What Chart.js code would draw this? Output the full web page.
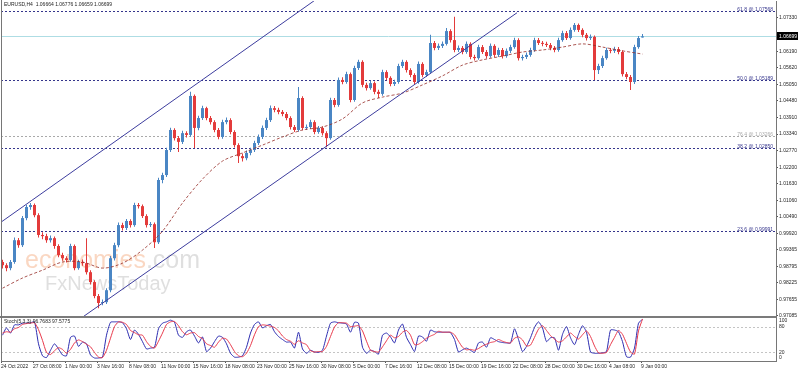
<!DOCTYPE html>
<html>
<head>
<meta charset="utf-8">
<title>EURUSD H4</title>
<script src="https://cdn.jsdelivr.net/npm/chart.js@4.4.1/dist/chart.umd.min.js"></script>
<style>
  body { margin: 0; background: #fff; }
  #wrap { position: relative; width: 798px; height: 372px; overflow: hidden; background: #fff; }
  #main-chart { position: absolute; left: 0; top: 0; }
  #stoch-chart { position: absolute; left: 0; top: 316px; }
</style>
</head>
<body>
<div id="wrap">
  <canvas id="main-chart" width="798" height="320"></canvas>
  <canvas id="stoch-chart" width="798" height="56"></canvas>
</div>
<script>
// --- data (one candle = two H4 bars) ---
var opens = [0.9894,0.9883,0.9873,0.9894,0.9969,0.9952,1.0045,1.0083,1.0090,1.0055,
  0.9987,0.9983,0.9969,0.9976,0.9949,0.9918,0.9907,0.9901,0.9949,0.9873,
  0.9894,0.9890,0.9859,0.9825,0.9777,0.9753,0.9756,0.9797,0.9907,0.9952,
  1.0021,1.0011,1.0035,1.0021,1.0090,1.0086,1.0052,1.0021,1.0024,0.9962,
  1.0176,1.0193,1.0279,1.0348,1.0320,1.0307,1.0337,1.0331,1.0465,1.0355,
  1.0389,1.0423,1.0389,1.0375,1.0348,1.0324,1.0375,1.0382,1.0341,1.0296,
  1.0258,1.0251,1.0269,1.0279,1.0303,1.0324,1.0355,1.0382,1.0423,1.0417,
  1.0410,1.0403,1.0389,1.0358,1.0348,1.0458,1.0355,1.0358,1.0375,1.0341,
  1.0355,1.0337,1.0320,1.0451,1.0434,1.0520,1.0513,1.0540,1.0451,1.0561,
  1.0582,1.0503,1.0492,1.0509,1.0479,1.0472,1.0547,1.0527,1.0506,1.0513,
  1.0568,1.0582,1.0554,1.0537,1.0513,1.0575,1.0537,1.0547,1.0647,1.0630,
  1.0637,1.0644,1.0688,1.0657,1.0623,1.0630,1.0616,1.0644,1.0599,1.0595,
  1.0633,1.0616,1.0602,1.0637,1.0606,1.0623,1.0602,1.0620,1.0633,1.0657,
  1.0595,1.0599,1.0606,1.0623,1.0657,1.0647,1.0644,1.0640,1.0630,1.0623,
  1.0657,1.0681,1.0664,1.0692,1.0709,1.0692,1.0675,1.0664,1.0668,1.0554,
  1.0568,1.0595,1.0623,1.0620,1.0626,1.0616,1.0540,1.0530,1.0513,1.0633,
  1.0666];

var highs = [0.9902,0.9890,0.9901,0.9978,0.9977,1.0052,1.0090,1.0097,1.0095,1.0062,
  0.9996,0.9991,0.9985,0.9982,0.9955,0.9926,0.9914,0.9957,0.9954,0.9902,
  0.9903,0.9976,0.9866,0.9831,0.9784,0.9765,0.9804,0.9915,0.9960,1.0030,
  1.0029,1.0042,1.0041,1.0098,1.0097,1.0092,1.0058,1.0032,1.0030,1.0184,
  1.0201,1.0287,1.0356,1.0354,1.0327,1.0345,1.0344,1.0479,1.0470,1.0397,
  1.0431,1.0428,1.0396,1.0381,1.0355,1.0383,1.0391,1.0388,1.0347,1.0302,
  1.0267,1.0277,1.0287,1.0311,1.0332,1.0363,1.0390,1.0432,1.0430,1.0424,
  1.0417,1.0410,1.0395,1.0365,1.0496,1.0464,1.0367,1.0383,1.0381,1.0362,
  1.0361,1.0344,1.0459,1.0458,1.0528,1.0529,1.0548,1.0546,1.0569,1.0589,
  1.0588,1.0510,1.0517,1.0515,1.0486,1.0555,1.0553,1.0533,1.0521,1.0576,
  1.0589,1.0588,1.0560,1.0543,1.0583,1.0581,1.0555,1.0675,1.0654,1.0645,
  1.0652,1.0699,1.0694,1.0737,1.0638,1.0637,1.0652,1.0650,1.0607,1.0641,
  1.0640,1.0623,1.0645,1.0643,1.0631,1.0630,1.0628,1.0641,1.0665,1.0663,
  1.0607,1.0614,1.0631,1.0665,1.0664,1.0654,1.0651,1.0647,1.0637,1.0665,
  1.0689,1.0688,1.0700,1.0716,1.0714,1.0698,1.0681,1.0676,1.0673,1.0576,
  1.0603,1.0631,1.0630,1.0634,1.0633,1.0622,1.0547,1.0537,1.0641,1.0671,
  1.0678];

var lows = [0.9872,0.9862,0.9866,0.9888,0.9943,0.9946,1.0038,1.0074,1.0048,0.9978,
  0.9972,0.9960,0.9961,0.9940,0.9910,0.9898,0.9892,0.9895,0.9866,0.9867,
  0.9881,0.9851,0.9817,0.9769,0.9735,0.9745,0.9750,0.9790,0.9899,0.9945,
  1.0002,1.0004,1.0013,1.0015,1.0078,1.0045,1.0013,1.0014,0.9942,0.9956,
  1.0165,1.0186,1.0272,1.0312,1.0272,1.0300,1.0322,1.0325,1.0286,1.0347,
  1.0382,1.0381,1.0367,1.0340,1.0316,1.0318,1.0368,1.0333,1.0288,1.0234,
  1.0240,1.0244,1.0261,1.0272,1.0296,1.0317,1.0348,1.0375,1.0409,1.0402,
  1.0395,1.0381,1.0350,1.0341,1.0342,1.0347,1.0348,1.0351,1.0333,1.0335,
  1.0329,1.0289,1.0314,1.0426,1.0428,1.0505,1.0507,1.0443,1.0445,1.0554,
  1.0495,1.0484,1.0486,1.0471,1.0458,1.0466,1.0519,1.0498,1.0499,1.0507,
  1.0561,1.0546,1.0529,1.0505,1.0507,1.0529,1.0530,1.0541,1.0622,1.0623,
  1.0630,1.0638,1.0649,1.0615,1.0616,1.0608,1.0610,1.0591,1.0587,1.0589,
  1.0609,1.0594,1.0596,1.0598,1.0599,1.0594,1.0596,1.0613,1.0627,1.0587,
  1.0587,1.0592,1.0600,1.0617,1.0640,1.0636,1.0633,1.0622,1.0615,1.0617,
  1.0651,1.0657,1.0658,1.0686,1.0685,1.0667,1.0656,1.0657,1.0520,1.0540,
  1.0561,1.0589,1.0612,1.0613,1.0608,1.0532,1.0522,1.0485,1.0506,1.0627,
  1.0666];

var closes = [0.9883,0.9873,0.9894,0.9969,0.9952,1.0045,1.0083,1.0090,1.0055,0.9987,
  0.9983,0.9969,0.9976,0.9949,0.9918,0.9907,0.9901,0.9949,0.9873,0.9894,
  0.9890,0.9859,0.9825,0.9777,0.9753,0.9756,0.9797,0.9907,0.9952,1.0021,
  1.0011,1.0035,1.0021,1.0090,1.0086,1.0052,1.0021,1.0024,0.9962,1.0176,
  1.0193,1.0279,1.0348,1.0320,1.0307,1.0337,1.0331,1.0465,1.0355,1.0389,
  1.0423,1.0389,1.0375,1.0348,1.0324,1.0375,1.0382,1.0341,1.0296,1.0258,
  1.0251,1.0269,1.0279,1.0303,1.0324,1.0355,1.0382,1.0423,1.0417,1.0410,
  1.0403,1.0389,1.0358,1.0348,1.0458,1.0355,1.0358,1.0375,1.0341,1.0355,
  1.0337,1.0320,1.0451,1.0434,1.0520,1.0513,1.0540,1.0451,1.0561,1.0582,
  1.0503,1.0492,1.0509,1.0479,1.0472,1.0547,1.0527,1.0506,1.0513,1.0568,
  1.0582,1.0554,1.0537,1.0513,1.0575,1.0537,1.0547,1.0647,1.0630,1.0637,
  1.0644,1.0688,1.0657,1.0623,1.0630,1.0616,1.0644,1.0599,1.0595,1.0633,
  1.0616,1.0602,1.0637,1.0606,1.0623,1.0602,1.0620,1.0633,1.0657,1.0595,
  1.0599,1.0606,1.0623,1.0657,1.0647,1.0644,1.0640,1.0630,1.0623,1.0657,
  1.0681,1.0664,1.0692,1.0709,1.0692,1.0675,1.0664,1.0668,1.0554,1.0568,
  1.0595,1.0623,1.0620,1.0626,1.0616,1.0540,1.0530,1.0513,1.0633,1.0664,
  1.0670];

// moving average, one value every 5th candle
var MA_STEP = 5;
var maValues = [0.9804,0.9839,0.9866,0.9894,0.9894,0.9873,0.9890,0.9935,1.0000,1.0097,
  1.0179,1.0241,1.0269,1.0296,1.0324,1.0348,1.0358,1.0386,1.0441,1.0461,
  1.0475,1.0503,1.0534,1.0571,1.0589,1.0602,1.0616,1.0623,1.0633,1.0644,
  1.0633,1.0620,1.0609];

// channel trend lines: [candle index, price] anchors
var channelUpper = [{x: -0.375, y: 1.0031}, {x: 78.5, y: 1.0798}];
var channelLower = [{x: 20.375, y: 0.9708}, {x: 128.625, y: 1.0751}];

var fibValues = [1.07568, 1.05189, 1.03266, 1.02850, 0.99991];
var fibLabels = ['61.8 @ 1.07568', '50.0 @ 1.05189', '76.4 @ 1.03266', '38.2 @ 1.02850', '23.6 @ 0.99991'];

var lastPrice = 1.06699;
var priceTicks = [0.97085, 0.97655, 0.98225, 0.98795, 0.99365, 0.99920, 1.00490, 1.01060,
  1.01630, 1.02200, 1.02770, 1.03340, 1.03910, 1.04480, 1.05050, 1.05620, 1.06190, 1.07330];

var stochK = [60,77,65,84,84,88,88,89,91,40,
  12,8,25,40,28,14,12,55,58,34,
  44,40,14,7,7,9,60,90,91,91,
  89,75,50,72,62,45,28,30,32,75,
  88,91,95,90,60,55,68,72,58,42,
  56,22,30,45,58,55,40,18,9,9,
  12,32,65,85,91,77,82,85,68,57,
  50,44,44,30,67,28,18,25,21,20,
  25,58,88,91,89,88,86,67,90,88,
  32,18,25,22,16,60,65,56,42,72,
  86,55,38,22,58,56,46,72,68,67,
  67,67,66,50,21,26,30,25,20,42,
  44,32,54,50,45,43,42,42,75,50,
  22,34,54,78,91,77,45,54,54,25,
  62,80,54,38,62,82,67,21,18,18,
  19,22,72,72,68,45,10,9,30,88,
  96.77];

var stochD = [65,68,67,75,78,85,87,88,89,73,
  48,20,15,24,31,27,18,27,42,49,
  45,39,33,20,9,8,25,53,80,91,
  90,85,71,66,61,60,45,34,30,46,
  65,85,91,92,82,68,61,65,66,57,
  52,40,36,32,44,53,51,38,22,12,
  10,18,36,61,80,84,83,81,78,70,
  58,50,46,39,47,42,38,24,21,22,
  22,34,57,79,89,89,88,80,81,82,
  70,46,25,22,21,33,47,60,54,57,
  67,71,60,38,39,45,53,58,62,69,
  67,67,67,61,46,32,26,27,25,29,
  35,39,43,45,50,46,43,42,53,56,
  49,35,37,55,74,82,71,59,51,44,
  47,56,65,57,51,61,70,57,35,19,
  18,20,38,55,71,62,41,21,16,70,
  97.58];

var stochLevels = [80, 20];
var stochLabels = [100, 80, 20, 0];

var dateLabels = ['24 Oct 2022', '27 Oct 08:00', '1 Nov 00:00', '3 Nov 16:00', '8 Nov 08:00',
  '11 Nov 00:00', '15 Nov 16:00', '18 Nov 08:00', '23 Nov 00:00', '25 Nov 16:00',
  '30 Nov 08:00', '5 Dec 00:00', '7 Dec 16:00', '12 Dec 08:00', '15 Dec 00:00',
  '19 Dec 16:00', '22 Dec 08:00', '28 Dec 00:00', '30 Dec 16:00', '4 Jan 08:00', '9 Jan 00:00'];

var titleText = 'EURUSD,H4  1.06664 1.06776 1.06659 1.06699';
var stochTitle = 'Stoch(5,3,3) 96.7683 97.5775';

// --- styles ---
var FONT = 'Liberation Sans';
var BULL = '#4a86c4';
var BEAR = '#e33b3b';
var FIB_COLOR = '#35358c';
var FIB_GRAY = '#a9a9a9';
var FRAME = '#767676';
var X_MIN = -0.375, X_MAX = 193.375;
var DATE_STEP = 8;

Chart.defaults.font.family = FONT;
Chart.defaults.font.size = 5;
Chart.defaults.color = '#1e1e1e';

function candleData(a, b) {
  var out = [];
  for (var i = 0; i < closes.length; i++) {
    out.push({x: i, y: [a[i], b[i]]});
  }
  return out;
}

function candleColor(c) {
  var i = c.dataIndex;
  return closes[i] >= opens[i] ? BULL : BEAR;
}

function seriesPoints(values, step) {
  return values.map(function(v, i) { return {x: i * step, y: v}; });
}

// Horizontal objects, watermark and captions of the price window
var mainDecor = {
  id: 'mainDecor',
  beforeDatasetsDraw: function(chart) {
    var ctx = chart.ctx, area = chart.chartArea, y = chart.scales.y;
    ctx.save();

    // watermark
    ctx.textBaseline = 'alphabetic';
    ctx.textAlign = 'left';
    ctx.font = '25px ' + FONT;
    ctx.fillStyle = 'rgba(244, 160, 110, 0.42)';
    ctx.fillText('economies', 25, 268);
    var w = ctx.measureText('economies').width;
    ctx.fillStyle = 'rgba(175, 175, 175, 0.4)';
    ctx.fillText('.com', 25 + w, 268);
    ctx.font = '20px ' + FONT;
    ctx.fillText('FxNewsToday', 45, 290);

    // current price line
    var py = Math.round(y.getPixelForValue(lastPrice)) + 0.5;
    ctx.strokeStyle = '#aedde4';
    ctx.lineWidth = 1;
    ctx.beginPath();
    ctx.moveTo(area.left, py);
    ctx.lineTo(area.right, py);
    ctx.stroke();

    // fibonacci levels
    ctx.setLineDash([2, 2]);
    ctx.font = '5px ' + FONT;
    ctx.textAlign = 'right';
    ctx.textBaseline = 'middle';
    fibValues.forEach(function(v, i) {
      var fy = Math.round(y.getPixelForValue(v)) + 0.5;
      var col = fibLabels[i].indexOf('76.4') === 0 ? FIB_GRAY : FIB_COLOR;
      ctx.strokeStyle = col;
      ctx.beginPath();
      ctx.moveTo(area.left, fy);
      ctx.lineTo(area.right, fy);
      ctx.stroke();
      ctx.fillStyle = col;
      ctx.fillText(fibLabels[i], area.right - 3, fy - 2);
    });
    ctx.restore();
  },
  afterDraw: function(chart) {
    var ctx = chart.ctx, area = chart.chartArea, y = chart.scales.y;
    ctx.save();
    // left frame
    ctx.strokeStyle = FRAME;
    ctx.lineWidth = 1;
    ctx.beginPath();
    ctx.moveTo(area.left + 0.5, 0);
    ctx.lineTo(area.left + 0.5, area.bottom);
    ctx.stroke();

    // symbol caption
    ctx.font = '5px ' + FONT;
    ctx.fillStyle = '#1e1e1e';
    ctx.textBaseline = 'middle';
    ctx.textAlign = 'left';
    ctx.fillText(titleText, 4, 5);

    // current price box on the axis
    var py = Math.round(y.getPixelForValue(lastPrice));
    ctx.fillStyle = '#000';
    ctx.fillRect(area.right + 1, py - 4, 21, 8);
    ctx.fillStyle = '#fff';
    ctx.fillText(lastPrice.toFixed(5), area.right + 3, py + 0.5);
    ctx.restore();
  }
};

var mainChart = new Chart(document.getElementById('main-chart'), {
  type: 'bar',
  data: {
    datasets: [
      {
        type: 'line',
        data: channelUpper,
        borderColor: '#3d3d9e',
        borderWidth: 1,
        pointRadius: 0,
        order: 0
      },
      {
        type: 'line',
        data: channelLower,
        borderColor: '#3d3d9e',
        borderWidth: 1,
        pointRadius: 0,
        order: 0
      },
      {
        type: 'line',
        data: seriesPoints(maValues, MA_STEP),
        borderColor: 'rgba(150, 45, 40, 0.8)',
        borderWidth: 1,
        borderDash: [3, 2],
        pointRadius: 0,
        tension: 0.3,
        order: 1
      },
      {
        data: candleData(opens, closes),
        backgroundColor: candleColor,
        barThickness: 3,
        minBarLength: 1,
        grouped: false,
        inflateAmount: 0,
        order: 2
      },
      {
        data: candleData(lows, highs),
        backgroundColor: candleColor,
        barThickness: 1,
        grouped: false,
        inflateAmount: 0,
        order: 3
      }
    ]
  },
  options: {
    responsive: false,
    devicePixelRatio: 1,
    animation: false,
    events: [],
    layout: { padding: { left: 1, top: 1, right: 0, bottom: 4 } },
    plugins: { legend: { display: false }, tooltip: { enabled: false } },
    scales: {
      x: {
        type: 'linear',
        min: X_MIN,
        max: X_MAX,
        offset: false,
        display: false
      },
      y: {
        type: 'linear',
        position: 'right',
        min: 0.97084,
        max: 1.07914,
        bounds: 'data',
        beginAtZero: false,
        afterBuildTicks: function(s) {
          s.ticks = priceTicks.map(function(v) { return {value: v}; });
        },
        afterFit: function(s) {
          s.width = 22;
          s.paddingTop = 0;
          s.paddingBottom = 0;
        },
        ticks: {
          autoSkip: false,
          padding: 1,
          font: { size: 5 },
          color: '#1e1e1e',
          callback: function(v) { return v.toFixed(5); }
        },
        grid: { drawOnChartArea: false, tickLength: 2, color: '#555' },
        border: { color: FRAME }
      }
    }
  },
  plugins: [mainDecor]
});

// Stochastic window decorations
var stochDecor = {
  id: 'stochDecor',
  beforeDatasetsDraw: function(chart) {
    var ctx = chart.ctx, area = chart.chartArea, y = chart.scales.y;
    ctx.save();
    ctx.strokeStyle = '#c4c4c4';
    ctx.lineWidth = 1;
    ctx.setLineDash([2, 2]);
    stochLevels.forEach(function(v) {
      var ly = Math.round(y.getPixelForValue(v)) + 0.5;
      ctx.beginPath();
      ctx.moveTo(area.left, ly);
      ctx.lineTo(area.right, ly);
      ctx.stroke();
    });
    ctx.restore();
  },
  afterDraw: function(chart) {
    var ctx = chart.ctx, area = chart.chartArea, y = chart.scales.y;
    ctx.save();
    // separator between windows
    ctx.fillStyle = '#7b7b7b';
    ctx.fillRect(0, 0, area.right + 1, 2);
    ctx.strokeStyle = FRAME;
    ctx.lineWidth = 1;
    ctx.beginPath();
    ctx.moveTo(area.left + 0.5, 0);
    ctx.lineTo(area.left + 0.5, area.bottom);
    ctx.moveTo(area.right + 0.5, 0);
    ctx.lineTo(area.right + 0.5, area.bottom + 1);
    ctx.stroke();

    ctx.font = '5px ' + FONT;
    ctx.fillStyle = '#1e1e1e';
    ctx.textBaseline = 'middle';
    ctx.textAlign = 'left';
    ctx.fillText(stochTitle, 4, 6);

    stochLabels.forEach(function(v) {
      var ly = y.getPixelForValue(v);
      ly = Math.min(Math.max(ly, area.top + 3), area.bottom - 3);
      ctx.fillText(String(v), area.right + 3, ly);
    });
    ctx.restore();
  }
};

var stochChart = new Chart(document.getElementById('stoch-chart'), {
  type: 'line',
  data: {
    datasets: [
      {
        data: seriesPoints(stochD, 1),
        borderColor: '#e8394b',
        borderWidth: 1,
        pointRadius: 0,
        tension: 0.2
      },
      {
        data: seriesPoints(stochK, 1),
        borderColor: '#2c2cb0',
        borderWidth: 1,
        pointRadius: 0,
        tension: 0.2
      }
    ]
  },
  options: {
    responsive: false,
    devicePixelRatio: 1,
    animation: false,
    events: [],
    layout: { padding: { left: 1, top: 2, right: 22, bottom: 0 } },
    plugins: { legend: { display: false }, tooltip: { enabled: false } },
    scales: {
      x: {
        type: 'linear',
        min: X_MIN,
        max: X_MAX,
        bounds: 'data',
        afterBuildTicks: function(s) {
          s.ticks = dateLabels.map(function(l, k) { return {value: X_MIN + k * DATE_STEP}; });
        },
        afterFit: function(s) {
          s.height = 11;
          s.paddingLeft = 0;
          s.paddingRight = 0;
        },
        ticks: {
          autoSkip: false,
          maxRotation: 0,
          minRotation: 0,
          align: 'start',
          padding: 1,
          font: { size: 5 },
          color: '#1e1e1e',
          callback: function(v, i) { return dateLabels[i]; }
        },
        grid: { drawOnChartArea: false, tickLength: 2, color: '#555' },
        border: { color: FRAME }
      },
      y: {
        min: 0,
        max: 100,
        display: false
      }
    }
  },
  plugins: [stochDecor]
});
</script>
</body>
</html>
